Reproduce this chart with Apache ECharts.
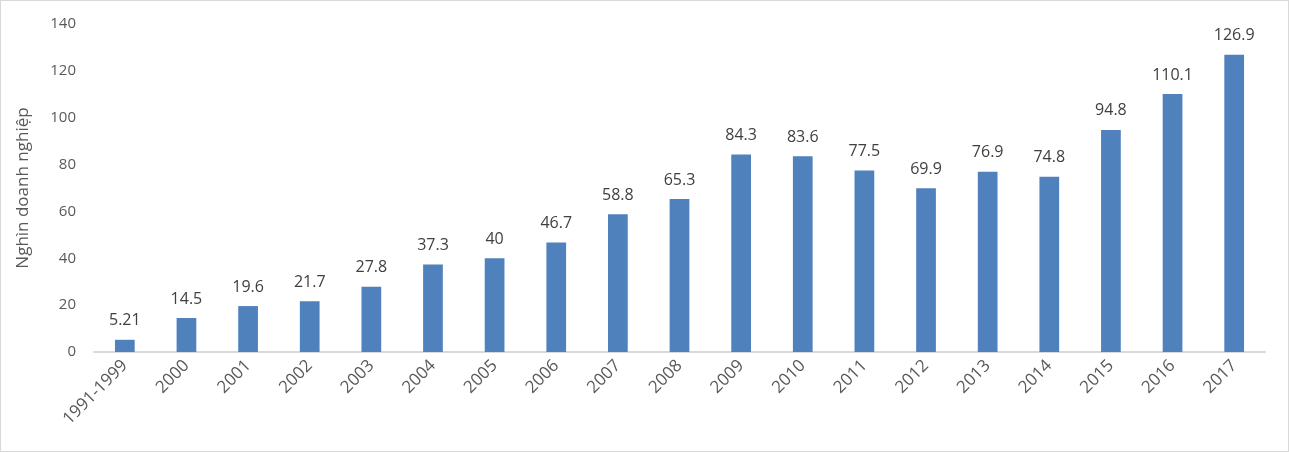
<!DOCTYPE html>
<html><head><meta charset="utf-8">
<script src="https://cdn.jsdelivr.net/npm/echarts@6/dist/echarts.min.js"></script>
<style>
html,body{margin:0;padding:0;background:#fff;}
#c{position:absolute;left:0;top:0;width:1287px;height:450px;border:1px solid #d9d9d9;}
</style></head><body>
<div id="c"></div>
<script>
const categories = ['1991-1999','2000','2001','2002','2003','2004','2005','2006','2007','2008','2009','2010','2011','2012','2013','2014','2015','2016','2017'];
const values = [5.21,14.5,19.6,21.7,27.8,37.3,40,46.7,58.8,65.3,84.3,83.6,77.5,69.9,76.9,74.8,94.8,110.1,126.9];
const yTicks = {min:0,max:140,interval:20};
const yName = 'Nghìn doanh nghiệp';

const chart = echarts.init(document.getElementById('c'));
const font = '"Open Sans", "Liberation Sans", sans-serif';
chart.setOption({
  animation:false,
  textStyle:{fontFamily:font},
  grid:{left:93,right:23,top:23,bottom:99,containLabel:false},
  xAxis:{type:'category',data:categories,
    axisLine:{lineStyle:{color:'#d9d9d9',width:2}},
    axisTick:{show:false},
    axisLabel:{rotate:45,color:'#595959',fontSize:17,fontFamily:font,margin:11,interval:0}},
  yAxis:{type:'value',min:yTicks.min,max:yTicks.max,interval:yTicks.interval,
    name:yName,nameLocation:'middle',nameGap:62,nameRotate:90,
    nameTextStyle:{color:'#595959',fontSize:17,fontFamily:font},
    axisLine:{show:false},axisTick:{show:false},splitLine:{show:false},
    axisLabel:{color:'#595959',fontSize:15,fontFamily:font,margin:18}},
  series:[{type:'bar',data:values,barWidth:'32%',
    itemStyle:{color:'#4f81bd'},
    label:{show:true,position:'top',color:'#404040',fontSize:16,fontFamily:font,distance:11}}]
});
</script></body></html>
